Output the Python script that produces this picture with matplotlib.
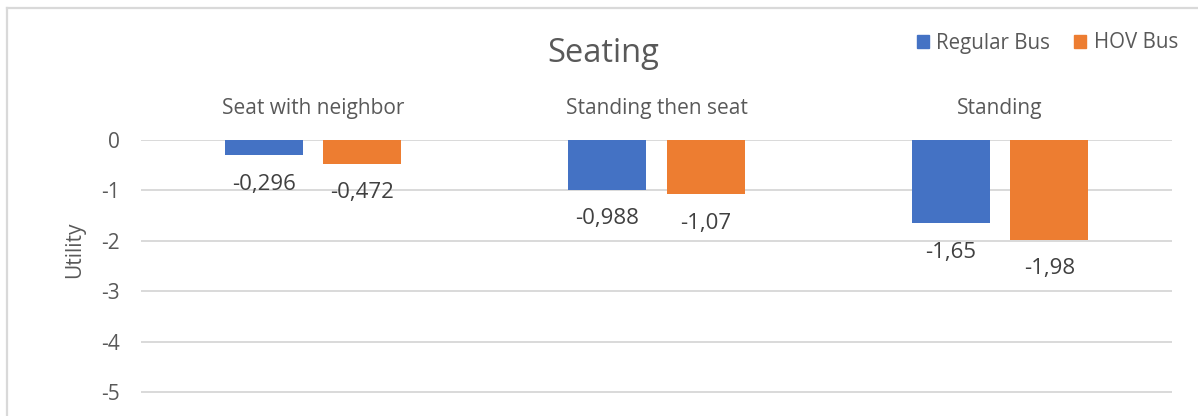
import numpy as np
import matplotlib
matplotlib.use("Agg")
import matplotlib.pyplot as plt
from matplotlib.patches import Patch
from matplotlib.lines import Line2D

categories = ["Seat with neighbor", "Standing then seat", "Standing"]
series_names = ["Regular Bus", "HOV Bus"]
regular = [-0.296, -0.988, -1.65]
hov = [-0.472, -1.07, -1.98]
yticks = [0, -1, -2, -3, -4, -5]

colors = ["#4472C4", "#ED7D31"]
txt = "#595959"
grid = "#D9D9D9"

plt.rcParams["font.family"] = ["Open Sans", "DejaVu Sans"]

W, H = 1198, 416
fig = plt.figure(figsize=(W / 100, H / 100), dpi=100)

# plot area in pixels: x 141..1172, zero line at y=140, 50.4 px per unit
ax = fig.add_axes([141 / W, 0, 1031 / W, 276 / H])
ax.set_ylim(-276 / 50.4, 0)
ax.set_xlim(-0.5, 2.5)

x = np.arange(len(categories))
bw = 0.227
off = 0.143
for vals, dx, c in [(regular, -off, colors[0]), (hov, off, colors[1])]:
    bars = ax.bar(x + dx, vals, width=bw, color=c, zorder=3)
    for b, v in zip(bars, vals):
        lab = ("%g" % v).replace(".", ",")
        ax.annotate(lab, (b.get_x() + b.get_width() / 2, v), xytext=(0, -21),
                    textcoords="offset points", ha="center", va="center",
                    fontsize=16, color="#404040")

for i, c in enumerate(categories):
    ax.annotate(c, (i, 0), xytext=(0, 23), textcoords="offset points",
                ha="center", va="center", fontsize=15, color=txt,
                annotation_clip=False)

ax.set_yticks(yticks)
ax.set_yticklabels([str(t) for t in yticks])
ax.set_xticks([])
ax.tick_params(axis="y", length=0, pad=15, labelsize=15, labelcolor=txt)
ax.yaxis.grid(True, color=grid, lw=1.4, zorder=0)
for s in ax.spines.values():
    s.set_visible(False)

fig.text(603 / W, 1 - 54 / H, "Seating", ha="center", va="center",
         fontsize=23.5, color=txt)
fig.text(75 / W, 1 - 250 / H, "Utility", ha="center", va="center",
         rotation=90, fontsize=15, color=txt)

handles = [Patch(color=c, label=n) for c, n in zip(colors, series_names)]
fig.legend(handles=handles, loc="center right",
           bbox_to_anchor=(1186 / W, 1 - 43 / H), ncol=2, frameon=False,
           fontsize=14.8, labelcolor=txt, handlelength=0.6, handleheight=0.6,
           handletextpad=0.35, columnspacing=1.15, borderaxespad=0)

# outer chart frame (left and top edges visible)
fig.add_artist(Line2D([6.5 / W, 6.5 / W], [0, 1 - 8 / H], color=grid, lw=1.6,
                      transform=fig.transFigure))
fig.add_artist(Line2D([6.5 / W, 1], [1 - 8 / H, 1 - 8 / H], color=grid, lw=1.6,
                      transform=fig.transFigure))

fig.savefig("out.png", dpi=100)
